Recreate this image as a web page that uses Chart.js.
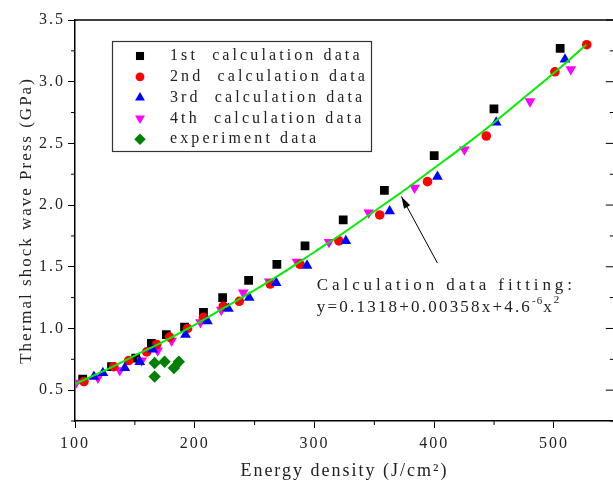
<!DOCTYPE html>
<html><head><meta charset="utf-8">
<script src="https://cdn.jsdelivr.net/npm/chart.js@4/dist/chart.umd.min.js"></script>
<style>html,body{margin:0;padding:0;background:#fff;overflow:hidden}#wrap{width:620px;height:480px}</style>
</head><body><div id="wrap"><canvas id="c" width="620" height="480"></canvas></div>
<script>
// ---- data ----
const seriesNames = ['1st  calculation data','2nd  calculation data','3rd  calculation data','4th  calculation data','experiment data'];

const s1x = [106.4,130.5,150.7,163.8,176.3,191.5,207.3,223.3,245.0,268.6,292.1,324.0,358.4,400.0,449.9,505.2];
const s1y = [0.59,0.69,0.76,0.88,0.95,1.01,1.13,1.25,1.39,1.52,1.67,1.88,2.12,2.40,2.78,3.27];

const s2x = [107.5,132.4,144.9,159.9,168.2,179.0,194.0,207.3,223.9,237.2,263.0,287.9,320.4,354.5,394.4,443.5,500.8,527.4];
const s2y = [0.57,0.69,0.74,0.81,0.87,0.93,1.00,1.09,1.18,1.22,1.36,1.52,1.71,1.92,2.19,2.56,3.08,3.30];

const s3x = [115.8,123.3,141.6,154.1,164.9,192.3,210.6,228.1,245.5,268.0,293.8,326.2,362.8,402.7,451.8,509.2];
const s3y = [0.61,0.64,0.68,0.73,0.83,0.95,1.06,1.16,1.25,1.37,1.51,1.71,1.95,2.23,2.67,3.18];

const s4x = [100.8,119.1,137.4,155.7,169.0,180.7,204.8,222.2,240.5,262.2,285.4,312.1,345.3,383.6,425.2,480.0,514.1];
const s4y = [0.56,0.60,0.66,0.74,0.82,0.90,1.05,1.15,1.29,1.38,1.54,1.70,1.94,2.14,2.45,2.84,3.10];

const expX = [166.5,174.8,166.5,182.6,186.7];
const expY = [0.72,0.73,0.61,0.68,0.73];

const fitX = [100,125,150,175,200,225,250,275,300,325,350,375,400,425,450,475,500,527];
const fitY = [0.55,0.66,0.78,0.90,1.03,1.17,1.31,1.46,1.62,1.78,1.95,2.12,2.30,2.48,2.67,2.87,3.07,3.30];

const xMajorTicks = [100,200,300,400,500];
const yMajorTicks = [0.5,1.0,1.5,2.0,2.5,3.0,3.5];

const fitText1 = 'Calculation data fitting:';
const fitText2 = ['y=0.1318+0.00358x+4.6','-6','x','2'];
const annot = {x:302, y1:1.35, y2:1.17, arrowFrom:[402.7,1.53], arrowTo:[372.6,2.07]};

// ---- chart ----
const FONT = '"Liberation Serif", serif';
Chart.defaults.font.family = FONT;
const pts = (xs, ys) => xs.map((v, i) => ({x: v, y: ys[i]}));
const isMajX = v => xMajorTicks.some(m => Math.abs(m - v) < 1e-6);
const isMajY = v => yMajorTicks.some(m => Math.abs(m - v) < 1e-6);

const styles = [
  {pointStyle:'rect', radius:6.2, color:'#000000', rotation:0},
  {pointStyle:'circle', radius:4.8, color:'#ff0000', rotation:0},
  {pointStyle:'triangle', radius:6.2, color:'#0000ff', rotation:0},
  {pointStyle:'triangle', radius:6.2, color:'#ff00ff', rotation:180},
  {pointStyle:'rectRot', radius:6.2, color:'#008000', rotation:0}
];
const sData = [pts(s1x,s1y), pts(s2x,s2y), pts(s3x,s3y), pts(s4x,s4y), pts(expX,expY)];
const orders = [4,2,1,3,5];

const datasets = [{
  label:'fit', data: pts(fitX, fitY), showLine:true, borderColor:'#00ee00', borderWidth:2,
  pointRadius:0, cubicInterpolationMode:'monotone', fill:false, order:0
}];
styles.forEach((st, i) => datasets.push({
  label: seriesNames[i], data: sData[i], pointStyle: st.pointStyle, pointRadius: st.radius,
  pointRotation: st.rotation, backgroundColor: st.color, borderColor: st.color, borderWidth: 0,
  pointBorderWidth: 0, order: orders[i]
}));

const spacing = {
  id: 'spacing',
  beforeDraw(chart) { chart.ctx.letterSpacing = '2px'; },
  afterDatasetsDraw(chart) { chart.ctx.letterSpacing = '0px'; }
};

const deco = {
  id: 'deco',
  afterDraw(chart) {
    const {ctx, chartArea: a, scales: {x, y}} = chart;
    ctx.save();
    ctx.letterSpacing = '0px';
    const line = (x1, y1, x2, y2) => { ctx.beginPath(); ctx.moveTo(x1, y1); ctx.lineTo(x2, y2); ctx.stroke(); };
    ctx.strokeStyle = '#000';
    ctx.lineWidth = 1.5;
    ctx.beginPath(); ctx.moveTo(a.left, a.top); ctx.lineTo(a.right, a.top); ctx.lineTo(a.right, a.bottom); ctx.stroke();
    ctx.lineWidth = 1;
    x.ticks.forEach(t => { if (!isMajX(t.value)) { const px = x.getPixelForValue(t.value); line(px, a.bottom, px, a.bottom + 4); } });
    y.ticks.forEach(t => {
      const py = y.getPixelForValue(t.value); const maj = isMajY(t.value);
      if (!maj) line(a.left - 4, py, a.left, py);
      line(a.right - (maj ? 8 : 4), py, a.right, py);
    });

    // legend
    const lx = 112, ly = 41, lw = 259, lh = 110;
    ctx.strokeStyle = '#333'; ctx.lineWidth = 1.2;
    ctx.strokeRect(lx + 0.5, ly + 0.5, lw, lh);
    ctx.font = '16px ' + FONT; ctx.textBaseline = 'middle'; ctx.textAlign = 'left';
    ctx.letterSpacing = '3.1px';
    styles.forEach((st, i) => {
      const ry = 56 + i * 20.8;
      ctx.fillStyle = st.color; ctx.strokeStyle = st.color;
      Chart.helpers.drawPoint(ctx, {pointStyle: st.pointStyle, radius: st.radius * 0.92, rotation: st.rotation, borderWidth: 0}, 140, ry);
      ctx.fillStyle = '#222';
      ctx.fillText(seriesNames[i], 170, ry);
    });

    // annotation text
    const ax = x.getPixelForValue(annot.x);
    ctx.fillStyle = '#222';
    ctx.font = '17px ' + FONT;
    ctx.letterSpacing = '3.9px';
    ctx.fillText(fitText1, ax, y.getPixelForValue(annot.y1));
    let cx = ax; const cy = y.getPixelForValue(annot.y2);
    ctx.letterSpacing = '2.2px';
    ctx.fillText(fitText2[0], cx, cy); cx += ctx.measureText(fitText2[0]).width;
    ctx.letterSpacing = '1px';
    ctx.font = '11px ' + FONT; ctx.fillText(fitText2[1], cx, cy - 6); cx += ctx.measureText(fitText2[1]).width;
    ctx.letterSpacing = '2px';
    ctx.font = '17px ' + FONT; ctx.fillText(fitText2[2], cx, cy); cx += ctx.measureText(fitText2[2]).width;
    ctx.font = '11px ' + FONT; ctx.fillText(fitText2[3], cx, cy - 7);
    ctx.letterSpacing = '0px';

    // arrow
    const x1 = x.getPixelForValue(annot.arrowFrom[0]), y1 = y.getPixelForValue(annot.arrowFrom[1]);
    const x2 = x.getPixelForValue(annot.arrowTo[0]), y2 = y.getPixelForValue(annot.arrowTo[1]);
    ctx.strokeStyle = '#000'; ctx.fillStyle = '#000'; ctx.lineWidth = 1;
    line(x1, y1, x2, y2);
    const ang = Math.atan2(y2 - y1, x2 - x1), L = 12, W = 3.5;
    const bx = x2 - L * Math.cos(ang), by = y2 - L * Math.sin(ang);
    ctx.beginPath(); ctx.moveTo(x2, y2);
    ctx.lineTo(bx + W * Math.sin(ang), by - W * Math.cos(ang));
    ctx.lineTo(bx - W * Math.sin(ang), by + W * Math.cos(ang));
    ctx.closePath(); ctx.fill();
    ctx.restore();
  }
};

new Chart(document.getElementById('c'), {
  type: 'scatter',
  data: {datasets},
  options: {
    responsive: false, animation: false, events: [],
    layout: {padding: {left: 0, top: 20, right: 4, bottom: 0}},
    plugins: {legend: {display: false}, tooltip: {enabled: false}},
    scales: {
      x: {
        type: 'linear', position: 'bottom', min: 100, max: 550,
        afterFit(s) { s.height = 59; },
        border: {color: '#000', width: 1.5},
        grid: {drawOnChartArea: false, drawTicks: true, tickLength: 7, tickWidth: 1,
               tickColor: c => (c.tick && isMajX(c.tick.value)) ? '#000' : 'rgba(0,0,0,0)'},
        ticks: {stepSize: 50, autoSkip: false, maxRotation: 0, padding: 6, color: '#222',
                font: {family: FONT, size: 16}, callback: v => isMajX(v) ? String(v) : ''},
        title: {display: true, text: 'Energy density (J/cm²)', color: '#222',
                font: {family: FONT, size: 18}, padding: {top: 0, bottom: -2}}
      },
      y: {
        type: 'linear', position: 'left', min: 0.25, max: 3.5,
        afterFit(s) { s.width = 75; },
        border: {color: '#000', width: 1.5},
        grid: {drawOnChartArea: false, drawTicks: true, tickLength: 7, tickWidth: 1,
               tickColor: c => (c.tick && isMajY(c.tick.value)) ? '#000' : 'rgba(0,0,0,0)'},
        ticks: {stepSize: 0.25, autoSkip: false, padding: 3, color: '#222',
                font: {family: FONT, size: 16}, callback: v => isMajY(v) ? Number(v).toFixed(1) : ''},
        title: {display: true, text: 'Thermal shock wave Press (GPa)', color: '#222',
                font: {family: FONT, size: 17}, padding: {top: 16, bottom: 0}}
      }
    }
  },
  plugins: [spacing, deco]
});
</script>
</body></html>
